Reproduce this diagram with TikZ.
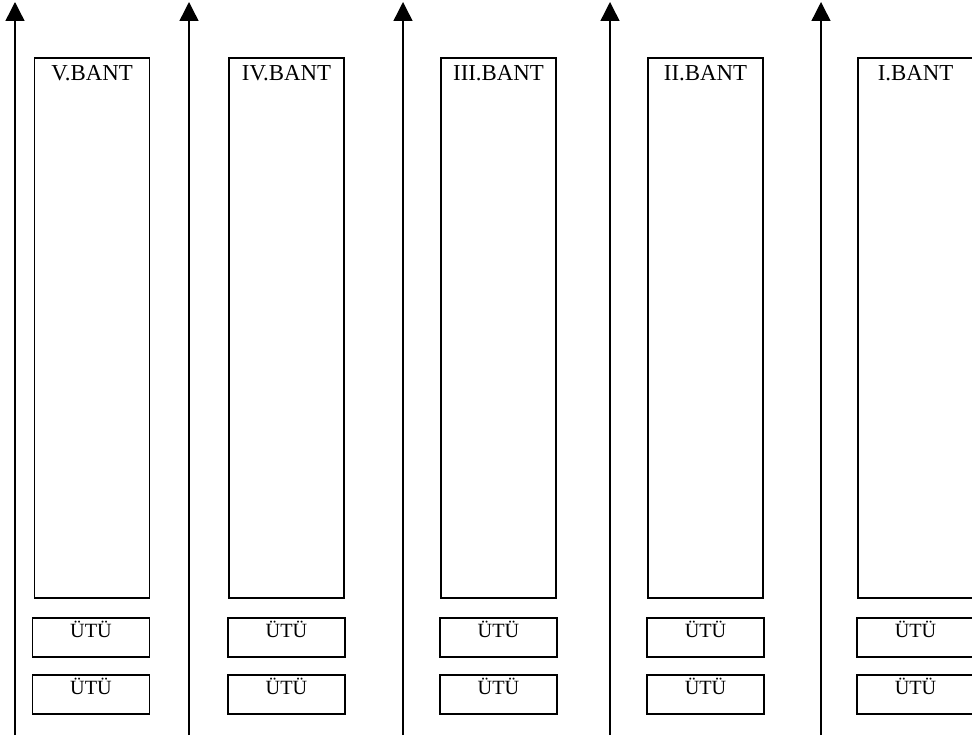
\documentclass[tikz,border=0pt]{standalone}
\usepackage{fontspec}
\setmainfont{Liberation Serif}
\usetikzlibrary{arrows.meta}

\tikzset{
  axis/.style={line width=0.8pt, -{Triangle[width=0.38cm,length=0.38cm]}},
  bantbox/.style={draw, line width=0.7pt, minimum width=2.3cm, minimum height=10.8cm, inner sep=0pt},
  utubox/.style={draw, line width=0.7pt, minimum width=2.34cm, minimum height=0.78cm, inner sep=0pt},
  bantlabel/.style={font=\fontsize{13}{15}\selectfont, anchor=north, inner sep=0.16cm},
  utulabel/.style={font=\fontsize{11.5}{13}\selectfont, anchor=north, inner sep=0.07cm},
}

\begin{document}
\begin{tikzpicture}[x=0.02cm, y=-0.02cm]
  \useasboundingbox (0,0) rectangle (972,740);

  % V
  \coordinate (a5b) at (15,735);  \coordinate (a5t) at (15,2);
  \draw[axis] (a5b) -- (a5t);
  \node[bantbox, label={[bantlabel]north:V.BANT}] (b5) at (92,328) {};
  \node[utubox, label={[utulabel]north:ÜTÜ}] (u5a) at (91,637.5) {};
  \node[utubox, label={[utulabel]north:ÜTÜ}] (u5b) at (91,694.5) {};

  % IV
  \coordinate (a4b) at (189,735); \coordinate (a4t) at (189,2);
  \draw[axis] (a4b) -- (a4t);
  \node[bantbox, label={[bantlabel]north:IV.BANT}] (b4) at (286.5,328) {};
  \node[utubox, label={[utulabel]north:ÜTÜ}] (u4a) at (286.5,637.5) {};
  \node[utubox, label={[utulabel]north:ÜTÜ}] (u4b) at (286.5,694.5) {};

  % III
  \coordinate (a3b) at (403,735); \coordinate (a3t) at (403,2);
  \draw[axis] (a3b) -- (a3t);
  \node[bantbox, label={[bantlabel]north:III.BANT}] (b3) at (498.5,328) {};
  \node[utubox, label={[utulabel]north:ÜTÜ}] (u3a) at (498.5,637.5) {};
  \node[utubox, label={[utulabel]north:ÜTÜ}] (u3b) at (498.5,694.5) {};

  % II
  \coordinate (a2b) at (610,735); \coordinate (a2t) at (610,2);
  \draw[axis] (a2b) -- (a2t);
  \node[bantbox, label={[bantlabel]north:II.BANT}] (b2) at (705.5,328) {};
  \node[utubox, label={[utulabel]north:ÜTÜ}] (u2a) at (705.5,637.5) {};
  \node[utubox, label={[utulabel]north:ÜTÜ}] (u2b) at (705.5,694.5) {};

  % I
  \coordinate (a1b) at (821,735); \coordinate (a1t) at (821,2);
  \draw[axis] (a1b) -- (a1t);
  \node[bantbox, label={[bantlabel]north:I.BANT}] (b1) at (915.5,328) {};
  \node[utubox, label={[utulabel]north:ÜTÜ}] (u1a) at (915.5,637.5) {};
  \node[utubox, label={[utulabel]north:ÜTÜ}] (u1b) at (915.5,694.5) {};
\end{tikzpicture}
\end{document}
